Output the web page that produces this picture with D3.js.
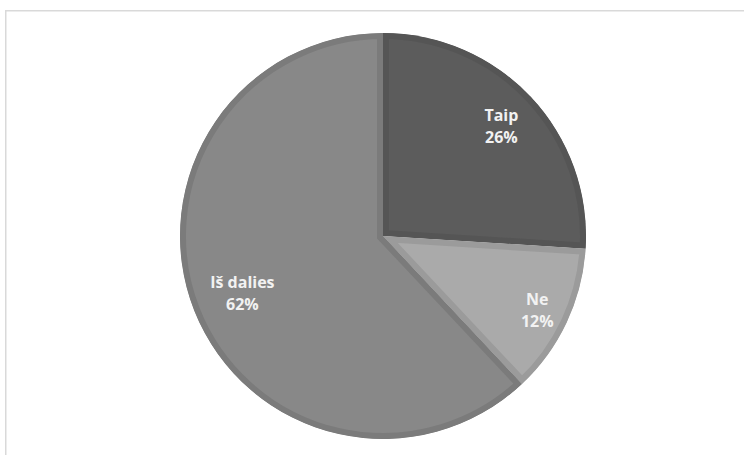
<!DOCTYPE html>
<html>
<head>
<meta charset="utf-8">
<script src="https://cdn.jsdelivr.net/npm/d3@7"></script>
<style>
  html, body { margin: 0; padding: 0; background: #ffffff; }
  svg { display: block; }
</style>
</head>
<body>
<svg id="chart" width="744" height="455"></svg>
<script>
// Survey answers and their shares (%)
const categories = ["Taip", "Ne", "Iš dalies"];
const values = [26, 12, 62];

// Slice styling: fill, inner border tone, label distance (fraction of radius)
const fills = ["#5c5c5c", "#aaaaaa", "#888888"];
const borders = ["#555555", "#9b9b9b", "#7b7b7b"];
const labelRadius = [0.8, 0.84, 0.745];

const width = 744, height = 455;
const cx = 383, cy = 236, R = 203;
const svg = d3.select("#chart");

// Chart area frame (runs off the right and bottom edges)
svg.append("rect")
  .attr("x", 5.75).attr("y", 10.75)
  .attr("width", 900).attr("height", 600)
  .attr("fill", "none")
  .attr("stroke", "#d9d9d9")
  .attr("stroke-width", 1.5);

const data = categories.map((c, i) => ({ cat: c, value: values[i], i }));

const pie = d3.pie().value(d => d.value).sort(null)
  .startAngle(0).endAngle(2 * Math.PI);
const arcs = pie(data);

const arc = d3.arc().innerRadius(0).outerRadius(R);

const g = svg.append("g").attr("transform", `translate(${cx},${cy})`);
const defs = svg.append("defs");

// Each slice clips its own stroke so the border sits inside the wedge
arcs.forEach((a, k) => {
  defs.append("clipPath").attr("id", "slice-clip-" + k)
    .append("path").attr("d", arc(a));
});

g.selectAll("path.slice")
  .data(arcs)
  .join("path")
  .attr("class", "slice")
  .attr("d", arc)
  .attr("fill", d => fills[d.data.i])
  .attr("stroke", d => borders[d.data.i])
  .attr("stroke-width", 12)
  .attr("stroke-linejoin", "miter")
  .attr("clip-path", (d, k) => `url(#slice-clip-${k})`);

// Data labels: category name and percentage
const labels = g.selectAll("text.lbl")
  .data(arcs)
  .join("text")
  .attr("class", "lbl")
  .attr("transform", d => {
    const r = R * labelRadius[d.data.i];
    const c = d3.arc().innerRadius(r).outerRadius(r).centroid(d);
    return `translate(${c[0]},${c[1]})`;
  })
  .attr("text-anchor", "middle")
  .attr("font-family", "'Open Sans', 'Noto Sans', sans-serif")
  .attr("font-weight", "bold")
  .attr("font-size", 16)
  .attr("fill", "#f2f2f2");

labels.append("tspan")
  .attr("x", 0).attr("y", -4)
  .text(d => d.data.cat);
labels.append("tspan")
  .attr("x", 0).attr("y", 18.5)
  .text(d => d.data.value + "%");
</script>
</body>
</html>
